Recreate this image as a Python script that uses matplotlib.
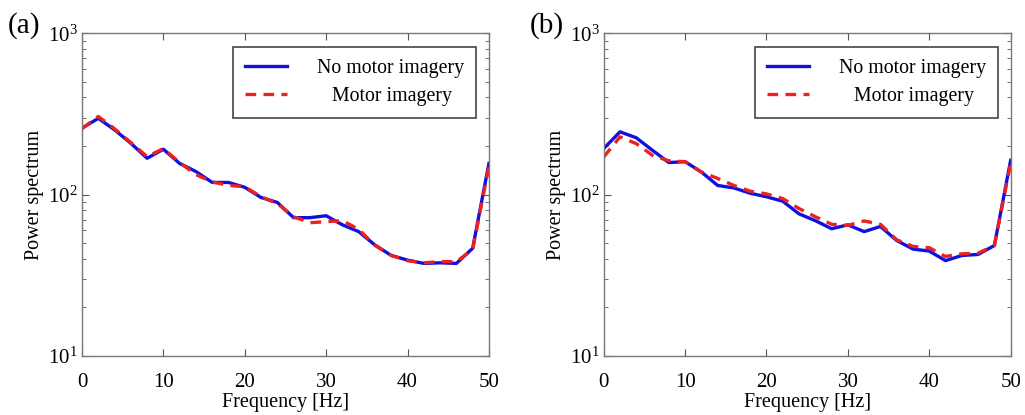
import matplotlib
matplotlib.use("Agg")
import matplotlib.pyplot as plt
from matplotlib.ticker import LogLocator, NullFormatter

plt.rcParams['font.family'] = ['Liberation Serif', 'DejaVu Serif']
plt.rcParams['mathtext.fontset'] = 'custom'
plt.rcParams['mathtext.rm'] = 'Liberation Serif'
plt.rcParams['mathtext.it'] = 'Liberation Serif:italic'

freq = [0, 2, 4, 6, 8, 10, 12, 14, 16, 18, 20, 22, 24, 26, 28, 30,
        32, 34, 36, 38, 40, 42, 44, 46, 48, 50]

a_no_mi = [258, 297, 252, 208, 168, 191, 156, 139, 119, 119, 111, 96, 89.5,
           72, 72, 74, 65, 59, 48.7, 42, 39.3, 37.5, 37.8, 37.5, 46.5, 156]
a_mi = [256, 305, 256, 210, 172, 193, 158, 133, 120, 114, 112, 97, 88,
        73, 67, 68, 69, 61, 48.5, 42, 39.0, 37.8, 38.5, 38.5, 45.5, 150]

b_no_mi = [193, 245, 225, 188, 158, 160, 138, 114, 110, 102, 97, 91, 76,
           69, 61.5, 65, 59, 63.5, 52, 46, 44.7, 39, 42, 42.6, 48.4, 163]
b_mi = [171, 228, 207, 175, 162, 160, 138, 126, 114, 105, 101, 94.5, 82,
        73, 65.5, 64.5, 68.7, 65.5, 52.5, 47.8, 46.9, 41.4, 43, 43.4, 48.4, 156]

panels = [("(a)", a_no_mi, a_mi), ("(b)", b_no_mi, b_mi)]
legend_labels = ["No motor imagery", "   Motor imagery"]

fig = plt.figure(figsize=(10.25, 4.15), dpi=100)
lefts = [0.080, 0.589]
for (tag, no_mi, mi), left in zip(panels, lefts):
    ax = fig.add_axes([left, 0.142, 0.397, 0.778])
    ax.plot(freq, no_mi, color='#1010e0', lw=2.4, solid_joinstyle='round',
            label=legend_labels[0])
    ax.plot(freq, mi, color='#ee2020', lw=2.4, ls=(0, (3.2, 2.2)),
            label=legend_labels[1])
    ax.set_yscale('log')
    ax.set_xlim(0, 50)
    ax.set_ylim(10, 1000)
    ax.set_xticks([0, 10, 20, 30, 40, 50])
    ax.yaxis.set_major_locator(LogLocator(base=10, numticks=5))
    ax.yaxis.set_minor_locator(LogLocator(base=10, subs=range(2, 10), numticks=20))
    ax.yaxis.set_minor_formatter(NullFormatter())
    ax.tick_params(which='both', direction='in', top=True, right=True,
                   colors='#555555', labelcolor='black', labelsize=15)
    ax.tick_params(which='major', length=5, width=0.8)
    ax.tick_params(which='minor', length=3, width=0.6)
    ax.tick_params(axis='x', which='major', pad=12)
    ax.tick_params(axis='y', which='major', pad=3)
    for sp in ax.spines.values():
        sp.set_color('#777777')
        sp.set_linewidth(1.0)
    ax.set_xlabel("Frequency [Hz]", fontsize=14.5, labelpad=1)
    ax.set_ylabel("Power spectrum", fontsize=14.5, labelpad=3)
    leg = ax.legend(loc='upper right', bbox_to_anchor=(0.968, 0.957),
                    borderaxespad=0, fancybox=False, framealpha=1,
                    edgecolor='#444444', fontsize=14.3, handlelength=2.1,
                    handletextpad=1.5, labelspacing=0.47, borderpad=0.6)
    leg.get_frame().set_linewidth(1.2)
    fig.text(left - 0.072, 0.905, tag, fontsize=21, ha='left', va='bottom')

fig.savefig("out.png", dpi=100)
